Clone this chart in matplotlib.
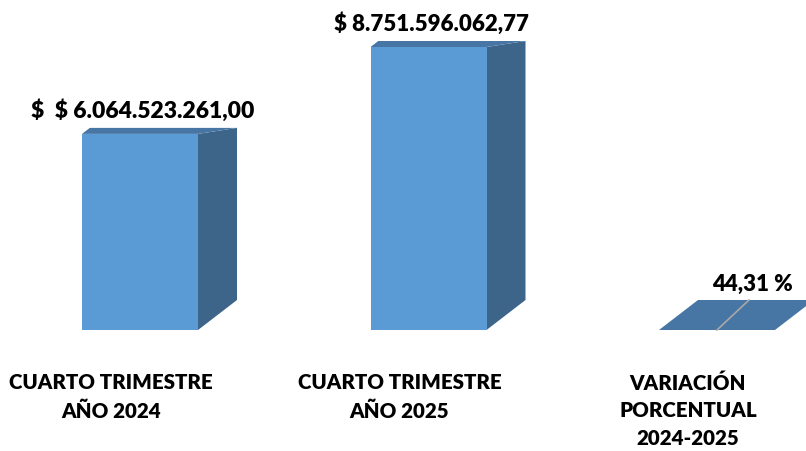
import numpy as np
import matplotlib.pyplot as plt
from matplotlib.patches import Polygon

# Datos del grafico
categorias = ['CUARTO TRIMESTRE\nAÑO 2024', 'CUARTO TRIMESTRE\nAÑO 2025',
              'VARIACIÓN\nPORCENTUAL\n2024-2025']
valores = [6064523261.00, 8751596062.77, 44.31]
etiquetas = ['$  $ 6.064.523.261,00', '$ 8.751.596.062,77', '44,31 %']

# Colores (barras 3D estilo Excel)
azul = '#5B9BD5'
azul_lado = '#3D6589'
azul_tapa = '#4776A4'

plt.rcParams['font.family'] = ['Lato', 'DejaVu Sans']
plt.rcParams['text.parse_math'] = False

fig = plt.figure(figsize=(8.06, 4.51), dpi=100)
ax = fig.add_axes([0, 0, 1, 1])
paso = 288.5                 # pixeles entre categorias
escala = 283 / valores[1]    # pixeles por unidad
ax.set_xlim(-140 / paso, (806 - 140) / paso)
ax.set_ylim(-121 / escala, 330 / escala)
ax.axis('off')

x = np.arange(len(valores))
ancho = 116 / paso
ax.bar(x, valores, width=ancho, color=azul, zorder=2)

# Caras lateral y superior (en pixeles, luego de vuelta a datos)
inv = ax.transData.inverted()
prof_x = 39
prof_y = 30
for xi, v in zip(x, valores):
    (x0, y0), (x1, y1) = ax.transData.transform([(xi - ancho / 2, 0), (xi + ancho / 2, v)])
    h = y1 - y0
    dy = max(6, prof_y - 0.2 * h)
    lado = [(x1, y0), (x1, y1), (x1 + prof_x, y1 + dy), (x1 + prof_x, y0 + prof_y)]
    tapa = [(x0, y1), (x1, y1), (x1 + prof_x, y1 + dy), (x0 + 1.3 * dy, y1 + dy)]
    ax.add_patch(Polygon(inv.transform(lado), closed=True, facecolor=azul_lado,
                         edgecolor='none', zorder=1))
    ax.add_patch(Polygon(inv.transform(tapa), closed=True, facecolor=azul_tapa,
                         edgecolor='none', zorder=3))
    if h < 1:
        xc = (x0 + x1) / 2
        ax.plot(*inv.transform([(xc, y0), (xc + 32, y0 + prof_y)]).T,
                color='#A8A8A8', lw=1.2, zorder=4)

# Etiquetas de valores
desp = [(3, 23), (3, 23), (35, 46)]
tamanos = [16.5, 16, 16]
for xi, v, txt, (dx, dy), fs in zip(x, valores, etiquetas, desp, tamanos):
    ax.annotate(txt, xy=(xi, v), xytext=(dx, dy), textcoords='offset pixels',
                ha='center', va='center', fontsize=fs, fontweight='heavy',
                color='black')

# Etiquetas de categorias
for xi, cat in zip(x, categorias):
    ax.annotate(cat, xy=(xi, 0), xytext=(-29, -43), textcoords='offset pixels',
                ha='center', va='top', fontsize=14.8, fontweight='heavy',
                color='black', linespacing=1.56, multialignment='center')

fig.savefig('out.png', dpi=100)
